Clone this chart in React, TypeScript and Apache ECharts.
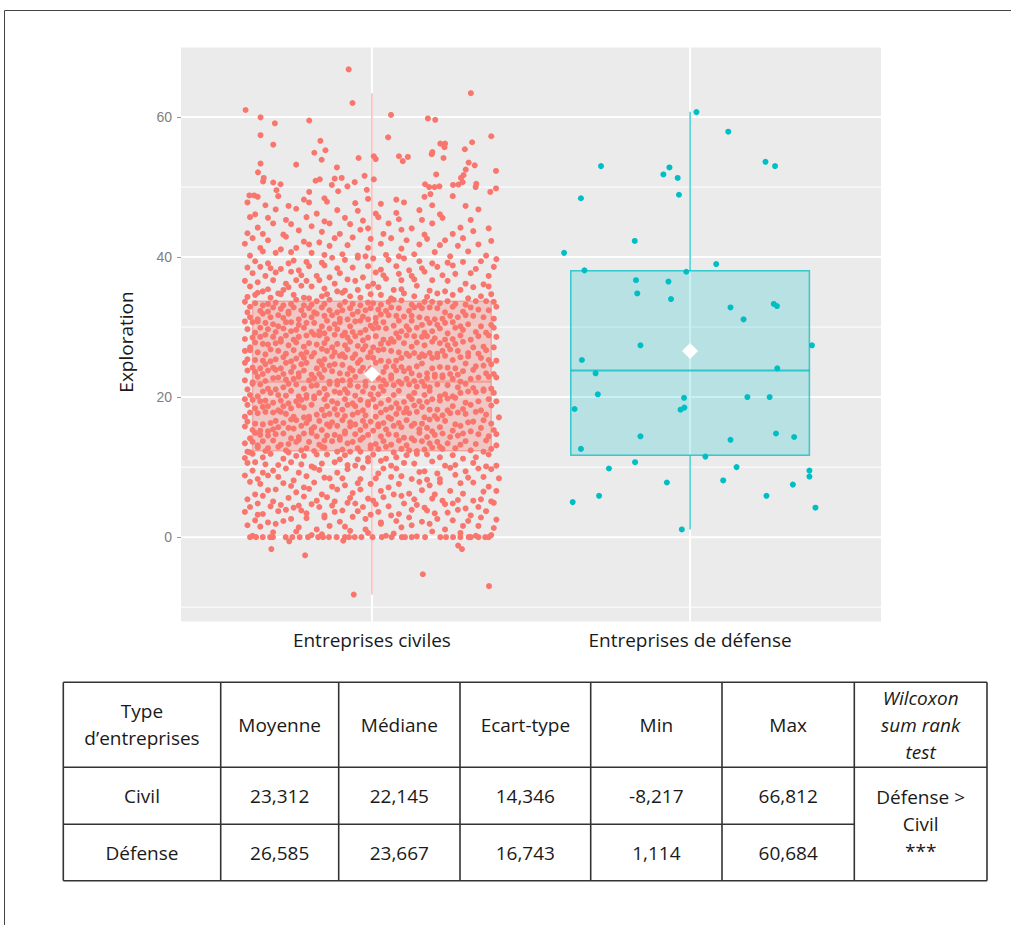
import React, { useEffect, useRef } from "react";
import * as echarts from "echarts";

// ---------- data ----------
const CATEGORIES = ["Entreprises civiles", "Entreprises de défense"];
const Y_MAJOR = [0, 20, 40, 60];
const Y_MINOR = [-10, 10, 30, 50, 70];
const X_POS = [1, 2];

// [x, lower whisker, Q1, median, Q3, upper whisker]
const BOX_CIVIL = [1, -8.2, 12.35, 22.2, 33.7, 63.4];
const BOX_DEFENSE = [2, 1.1, 11.7, 23.8, 38.05, 60.75];
const MEANS = [23.312, 26.585];

// Civil jittered points, read band by band (index = integer part of y).
// each code "XXd": XX = horizontal jitter position (00 left .. 99 right), d = tenths of y
const CIVIL_BANDS = [
  "032 117 208 263 304 419 486 552 585 671 738 846 902 963",
  "017 065 129 214 281 336 395 471 539 614 657 729 781 856 916 973",
  "044 091 153 186 247 318 372 429 476 531 593 648 692 756 814 873 928 985",
  "006 052 073 137 169 228 244 311 356 388 447 492 526 571 603 659 718 744 795 839 881 947",
  "023 058 104 146 192 215 267 293 345 409 438 463 517 564 628 676 702 787 818 861 913 979",
  "014 079 111 176 238 282 327 351 416 485 502 547 619 664 735 772 833 892 924 961",
  "041 097 128 204 259 301 368 423 458 536 581 642 697 741 806 852 935 986",
  "029 066 157 183 231 278 342 394 447 496 561 606 689 724 768 847 898 952",
  "008 053 098 136 191 247 315 334 384 453 514 576 617 653 712 763 829 875 936 994",
  "035 072 115 168 212 279 296 362 407 469 521 548 598 683 704 751 809 864 918 967",
  "016 047 084 133 187 224 261 305 357 403 432 488 539 572 626 665 738 782 823 896 941 982",
  "003 039 074 109 152 206 236 288 328 371 397 441 483 508 552 594 637 679 718 764 817 852 904 958",
  "012 021 058 083 097 139 164 171 224 247 273 309 318 362 385 412 447 452 497 526 559 581 616 644 673 705 738 769 776 827 884 932 966",
  "004 036 051 077 118 142 173 206 219 256 292 318 347 379 404 426 459 491 513 547 572 608 631 668 697 724 756 794 842 867 903 948 981",
  "021 049 066 095 127 158 181 213 238 269 284 325 356 373 398 437 462 486 534 567 596 622 651 689 713 746 778 803 835 858 917 954 987",
  "008 033 062 091 114 137 176 195 229 264 277 303 338 369 391 418 453 479 502 528 554 589 617 659 684 716 731 767 812 849 881 926 973",
  "015 042 071 103 126 153 188 207 243 258 296 321 344 387 414 431 466 495 521 543 579 603 637 662 692 728 759 786 821 874 895 937 962",
  "002 028 057 089 118 149 166 192 231 252 285 314 336 365 393 425 448 474 512 538 561 596 628 647 679 701 743 774 807 838 866 909 945 991",
  "019 044 076 097 131 157 184 218 235 269 302 327 353 382 409 437 461 489 516 552 575 604 634 668 696 722 752 791 817 853 889 921 968",
  "007 036 064 085 112 145 171 204 226 249 278 317 344 361 397 421 456 483 507 531 566 591 623 657 684 713 737 765 798 829 862 914 957 984",
  "023 051 078 106 133 162 189 211 243 271 296 323 358 376 406 432 468 494 524 549 583 609 641 666 703 729 761 784 811 846 878 907 939 976",
  "011 039 068 092 121 154 179 208 232 266 287 312 339 368 391 417 445 476 503 535 558 587 619 648 675 706 724 758 797 834 869 893 931 962",
  "004 031 059 083 117 138 165 196 219 254 277 308 332 363 384 414 439 472 498 527 544 577 602 636 663 692 717 749 778 816 842 886 918 959 988",
  "018 046 073 098 129 153 186 214 238 262 293 319 347 374 403 428 457 486 512 546 571 598 627 654 681 714 742 771 803 832 857 899 944 973",
  "009 032 061 087 112 141 169 193 227 249 281 306 335 357 386 411 449 462 491 519 553 584 613 641 674 698 731 763 792 821 868 904 935 967",
  "014 043 072 101 124 157 181 205 236 268 291 314 348 379 397 426 453 487 506 532 561 592 616 649 687 709 736 757 789 813 847 878 926 953 982",
  "006 027 054 081 108 136 162 197 221 244 273 309 326 354 381 408 431 468 494 527 548 576 604 632 663 691 723 752 776 808 836 873 912 947",
  "021 048 076 095 127 149 174 208 232 257 285 317 341 366 394 419 443 473 501 536 567 589 627 652 678 704 739 767 794 826 859 891 932 971",
  "003 035 066 089 116 143 168 192 216 248 279 298 323 359 388 405 437 461 485 517 542 573 605 638 667 696 717 744 782 813 848 882 917 958 986",
  "017 042 069 097 123 158 184 206 239 263 294 311 338 367 392 423 452 476 508 529 558 591 614 646 679 702 734 768 791 829 856 903 942 979",
  "008 037 058 086 114 131 167 187 213 246 276 301 329 354 377 411 438 459 492 516 547 582 609 631 659 693 726 753 786 817 841 874 921 963",
  "024 051 079 104 137 153 179 211 237 264 289 316 347 372 401 428 465 481 513 538 567 596 625 656 684 712 741 772 806 834 867 896 934 972",
  "011 029 063 092 118 146 172 198 224 257 271 308 334 361 384 417 442 474 497 525 553 578 607 643 668 697 728 757 781 819 852 888 915 954 989",
  "006 044 071 093 125 151 183 209 231 262 287 313 339 371 396 423 451 485 504 532 566 589 618 652 681 706 736 764 797 823 862 907 947 976",
  "013 046 059 102 138 147 196 232 251 304 327 389 414 452 497 536 571 628 664 713 758 816 871 924 967",
  "028 071 094 153 177 229 268 315 361 392 443 488 527 583 614 679 722 781 843 897 958",
  "006 054 117 162 207 246 297 352 408 436 502 559 617 668 737 796 862 931",
  "037 083 128 189 224 283 331 377 461 518 544 606 653 709 774 826 887 953",
  "015 066 104 143 211 257 318 364 425 487 532 597 641 694 756 818 903 976",
  "044 091 171 195 243 302 349 396 449 508 566 628 684 731 792 853 924 987",
  "022 078 126 187 266 313 384 442 471 553 601 664 747 801 878 942",
  "009 063 141 203 258 336 407 483 539 612 688 767 836 918",
  "037 094 169 232 291 357 428 496 577 634 716 784 857 963",
  "014 073 152 218 306 373 459 543 619 702 813 897",
  "052 118 187 264 338 417 481 568 651 738 842 951",
  "027 096 163 247 311 396 462 527 604 693 776 883",
  "041 128 209 282 367 446 512 593 687 761 918",
  "018 084 173 258 329 437 536 628 734 863",
  "056 137 232 314 483 592 706 817",
];

// civil points lying exactly on 0 (jitter offsets)
const CIVIL_ZERO = [
  -0.383, -0.364, -0.343, -0.32, -0.311, -0.271, -0.25, -0.227, -0.201, -0.169, -0.154,
  -0.135, -0.111, -0.085, -0.072, -0.054, -0.033, 0.002, 0.031, 0.062, 0.094, 0.104,
  0.125, 0.167, 0.215, 0.233, 0.255, 0.278, 0.304, 0.311, 0.335, 0.356, 0.367,
];

// civil isolated points: [jitter offset, value]
const CIVIL_EXTRA = [
  [-0.316, -1.7], [-0.21, -2.6], [-0.057, -8.2], [0.16, -5.3], [0.368, -7.0],
  [0.271, -1.2], [0.283, -1.7], [-0.26, -0.6], [-0.09, -0.5],
  [-0.073, 66.8], [-0.061, 62.0], [0.311, 63.4], [-0.397, 61.0], [-0.35, 59.95], [-0.305, 59.1],
  [-0.197, 59.5], [0.06, 60.3], [0.176, 59.8], [0.199, 59.6], [-0.35, 57.4], [-0.31, 56.05],
  [0.051, 57.1], [0.375, 57.25], [-0.162, 56.6], [-0.181, 54.9], [-0.146, 55.25], [-0.158, 53.9],
  [0.215, 56.2], [0.23, 56.2], [0.228, 55.7], [0.315, 56.4], [0.292, 55.4], [0.188, 54.7],
  [0.19, 55.0], [0.225, 54.15], [-0.042, 54.15], [0.006, 54.4], [0.012, 54.0], [0.085, 54.4],
  [0.097, 53.7], [0.113, 54.3], [-0.35, 53.35], [-0.238, 53.2], [-0.358, 52.1], [-0.11, 52.8],
  [0.304, 53.5], [0.323, 53.1], [0.39, 52.3], [0.295, 52.5], [0.288, 51.7], [0.202, 51.8],
  [-0.34, 51.3], [-0.342, 50.8], [-0.31, 50.65], [-0.287, 50.4], [-0.3, 49.55], [-0.177, 50.9],
  [-0.164, 51.1], [-0.117, 51.2], [-0.095, 51.3], [-0.126, 50.3], [-0.106, 49.4], [-0.077, 50.1],
  [-0.054, 50.7], [-0.023, 51.6], [0.006, 51.1], [-0.016, 49.6], [-0.197, 49.3], [0.167, 50.4],
  [0.18, 50.0], [0.197, 50.0], [0.212, 50.1], [0.184, 49.0], [0.255, 50.3], [0.272, 50.35],
  [0.28, 51.3], [0.285, 50.7], [0.328, 50.45], [0.326, 50.0], [0.372, 49.3], [0.39, 49.8],
  [-0.385, 48.8], [-0.37, 48.8],
];

// defense points: [jitter offset, value]
const DEFENSE_POINTS = [
  [0.02, 60.7], [0.12, 57.9], [-0.28, 53.0], [-0.065, 52.8], [-0.084, 51.8], [-0.039, 51.3],
  [0.237, 53.6], [0.267, 53.0], [-0.343, 48.4], [-0.035, 48.9], [-0.174, 42.3], [-0.396, 40.6],
  [0.082, 39.0], [-0.332, 38.1], [-0.012, 37.9], [-0.17, 36.7], [-0.068, 36.5], [-0.166, 34.8],
  [-0.06, 34.0], [0.127, 32.8], [0.263, 33.3], [0.273, 33.0], [0.168, 31.1], [-0.156, 27.4],
  [0.383, 27.4], [-0.34, 25.3], [-0.297, 23.4], [0.274, 24.1], [-0.29, 20.4], [-0.363, 18.3],
  [-0.019, 19.9], [-0.03, 18.2], [-0.018, 18.5], [0.18, 20.0], [0.25, 20.0], [-0.156, 14.4],
  [0.127, 13.9], [0.27, 14.8], [0.327, 14.3], [-0.343, 12.6], [0.048, 11.5], [-0.255, 9.8],
  [-0.173, 10.7], [0.146, 10.0], [0.375, 9.5], [0.375, 8.65], [-0.073, 7.8], [0.104, 8.1],
  [0.323, 7.5], [-0.369, 5.0], [-0.286, 5.9], [0.24, 5.9], [0.394, 4.2], [-0.026, 1.1],
];

const TABLE_HEADER = ["Type\nd’entreprises", "Moyenne", "Médiane", "Ecart-type", "Min", "Max", "Wilcoxon\nsum rank\ntest"];
const TABLE_ROWS = [
  ["Civil", "23,312", "22,145", "14,346", "-8,217", "66,812"],
  ["Défense", "26,585", "23,667", "16,743", "1,114", "60,684"],
];
const TEST_RESULT = "Défense >\nCivil\n***";

// ---------- helpers ----------
function decodeBands(bands: string[], center: number) {
  const out: number[][] = [];
  bands.forEach((s, band) => {
    s.trim().split(/\s+/).forEach((code) => {
      if (code.length !== 3) return;
      const xx = parseInt(code.slice(0, 2), 10);
      const d = parseInt(code[2], 10);
      out.push([center + (xx - 49.5) / 124, band + d / 10]);
    });
  });
  return out;
}

const CIVIL_COLOR = "#F8766D";
const DEF_COLOR = "#00BFC4";
const BOX_FILL = ["rgba(248,118,109,0.3)", "rgba(0,191,196,0.22)"];
const BOX_LINE = ["rgba(248,118,109,0.5)", "rgba(0,191,196,0.75)"];

const FONT = '"Open Sans", "Noto Sans", sans-serif';
const FONT_SIZE = 19;

function buildTable() {
  const colX = [63.3, 220.7, 338.7, 460, 590.7, 722, 854.3, 987];
  const rowY = [682.3, 767.3, 824.3, 880.7];
  const stroke = "#333";
  const lw = 1.6;
  const els: any[] = [];
  els.push({ type: "line", shape: { x1: colX[0], y1: rowY[0], x2: colX[7], y2: rowY[0] }, style: { stroke, lineWidth: lw } });
  els.push({ type: "line", shape: { x1: colX[0], y1: rowY[1], x2: colX[7], y2: rowY[1] }, style: { stroke, lineWidth: lw } });
  els.push({ type: "line", shape: { x1: colX[0], y1: rowY[2], x2: colX[6], y2: rowY[2] }, style: { stroke, lineWidth: lw } });
  els.push({ type: "line", shape: { x1: colX[0], y1: rowY[3], x2: colX[7], y2: rowY[3] }, style: { stroke, lineWidth: lw } });
  colX.forEach((x) => {
    els.push({ type: "line", shape: { x1: x, y1: rowY[0], x2: x, y2: rowY[3] }, style: { stroke, lineWidth: lw } });
  });
  const textStyle = (text: string, x: number, y: number, italic = false) => ({
    type: "text",
    x,
    y,
    style: {
      text,
      align: "center",
      verticalAlign: "middle",
      fontFamily: FONT,
      fontSize: FONT_SIZE,
      fontStyle: italic ? "italic" : "normal",
      lineHeight: 27,
      fill: "#1a1a1a",
    },
  });
  TABLE_HEADER.forEach((t, i) => {
    const cx = (colX[i] + colX[i + 1]) / 2;
    els.push(textStyle(t, cx, (rowY[0] + rowY[1]) / 2, i === 6));
  });
  TABLE_ROWS.forEach((row, r) => {
    row.forEach((t, i) => {
      const cx = (colX[i] + colX[i + 1]) / 2;
      els.push(textStyle(t, cx, (rowY[r + 1] + rowY[r + 2]) / 2));
    });
  });
  els.push(textStyle(TEST_RESULT, (colX[6] + colX[7]) / 2, (rowY[1] + rowY[3]) / 2));
  return els;
}

export default function App() {
  const ref = useRef<HTMLDivElement>(null);
  useEffect(() => {
    if (!ref.current) return;
    const chart = echarts.init(ref.current, null, { renderer: "svg" });

    const civilPoints = [
      ...decodeBands(CIVIL_BANDS, X_POS[0]),
      ...CIVIL_ZERO.map((o) => [X_POS[0] + o, 0]),
      ...CIVIL_EXTRA.map(([o, v]) => [X_POS[0] + o, v]),
    ];
    const defensePoints = DEFENSE_POINTS.map(([o, v]) => [X_POS[1] + o, v]);

    const option: any = {
      animation: false,
      grid: {
        left: 181,
        right: 130,
        top: 47,
        bottom: 303.5,
        show: true,
        backgroundColor: "#EBEBEB",
        borderWidth: 0,
      },
      xAxis: {
        type: "value",
        min: 0.4,
        max: 2.6,
        axisLine: { show: false },
        splitLine: { show: false },
        axisTick: { show: true, customValues: X_POS, length: 4, lineStyle: { color: "#999", width: 1 } },
        axisLabel: {
          customValues: X_POS,
          formatter: (v: number) => CATEGORIES[Math.round(v) - 1] || "",
          margin: 9,
          color: "#1a1a1a",
          fontFamily: FONT,
          fontSize: FONT_SIZE,
        },
      },
      yAxis: {
        type: "value",
        min: -12.05,
        max: 70,
        axisLine: { show: false },
        splitLine: { show: false },
        axisTick: { show: true, customValues: Y_MAJOR, length: 4, lineStyle: { color: "#999", width: 1 } },
        axisLabel: {
          customValues: Y_MAJOR,
          margin: 9,
          color: "#7f7f7f",
          fontFamily: '"Liberation Sans", Arial, sans-serif',
          fontSize: 14,
        },
      },
      graphic: [
        { type: "line", shape: { x1: 4.5, y1: 10.5, x2: 1011, y2: 10.5 }, style: { stroke: "#444", lineWidth: 1 } },
        { type: "line", shape: { x1: 4.5, y1: 10.5, x2: 4.5, y2: 925 }, style: { stroke: "#444", lineWidth: 1 } },
        {
          type: "text",
          x: 126,
          y: 342,
          rotation: Math.PI / 2,
          style: {
            text: "Exploration",
            align: "center",
            verticalAlign: "middle",
            fontFamily: FONT,
            fontSize: FONT_SIZE,
            fill: "#1a1a1a",
          },
        },
        ...buildTable(),
      ],
      series: [
        {
          type: "custom",
          z: 1,
          silent: true,
          data: [...Y_MINOR.map((v) => [1.5, v, 1]), ...Y_MAJOR.map((v) => [1.5, v, 2])],
          encode: { x: 0, y: 1 },
          renderItem: (params: any, api: any) => {
            const cs = params.coordSys;
            const y = api.coord([1.5, api.value(1)])[1];
            return {
              type: "line",
              shape: { x1: cs.x, y1: y, x2: cs.x + cs.width, y2: y },
              style: { stroke: "#fff", lineWidth: api.value(2) },
            };
          },
        },
        {
          type: "custom",
          z: 1,
          silent: true,
          data: X_POS.map((x) => [x, 30]),
          encode: { x: 0, y: 1 },
          renderItem: (params: any, api: any) => {
            const cs = params.coordSys;
            const x = api.coord([api.value(0), 30])[0];
            return {
              type: "line",
              shape: { x1: x, y1: cs.y, x2: x, y2: cs.y + cs.height },
              style: { stroke: "#fff", lineWidth: 2 },
            };
          },
        },
        {
          type: "custom",
          z: 2,
          silent: true,
          data: [BOX_CIVIL, BOX_DEFENSE],
          encode: { x: 0, y: [1, 2, 3, 4, 5] },
          renderItem: (params: any, api: any) => {
            const i = params.dataIndex;
            const x = api.value(0);
            const lo = api.value(1);
            const q1 = api.value(2);
            const med = api.value(3);
            const q3 = api.value(4);
            const hi = api.value(5);
            const hw = 0.375;
            const tl = api.coord([x - hw, q3]);
            const br = api.coord([x + hw, q1]);
            const mL = api.coord([x - hw, med]);
            const mR = api.coord([x + hw, med]);
            const pHi = api.coord([x, hi]);
            const pQ3 = api.coord([x, q3]);
            const pQ1 = api.coord([x, q1]);
            const pLo = api.coord([x, lo]);
            const stroke = BOX_LINE[i];
            return {
              type: "group",
              children: [
                {
                  type: "rect",
                  shape: { x: tl[0], y: tl[1], width: br[0] - tl[0], height: br[1] - tl[1] },
                  style: { fill: BOX_FILL[i], stroke, lineWidth: 1.5 },
                },
                { type: "line", shape: { x1: mL[0], y1: mL[1], x2: mR[0], y2: mR[1] }, style: { stroke, lineWidth: 2.2 } },
                { type: "line", shape: { x1: pHi[0], y1: pHi[1], x2: pQ3[0], y2: pQ3[1] }, style: { stroke, lineWidth: 1.5 } },
                { type: "line", shape: { x1: pQ1[0], y1: pQ1[1], x2: pLo[0], y2: pLo[1] }, style: { stroke, lineWidth: 1.5 } },
              ],
            };
          },
        },
        {
          type: "scatter",
          z: 3,
          silent: true,
          progressive: 0,
          symbolSize: 6,
          itemStyle: { color: CIVIL_COLOR, opacity: 1 },
          data: civilPoints,
        },
        {
          type: "scatter",
          z: 3,
          silent: true,
          progressive: 0,
          symbolSize: 6,
          itemStyle: { color: DEF_COLOR, opacity: 1 },
          data: defensePoints,
        },
        {
          type: "scatter",
          z: 4,
          silent: true,
          symbol: "diamond",
          symbolSize: [16, 16],
          itemStyle: { color: "#ffffff", opacity: 1 },
          data: X_POS.map((x, i) => [x, MEANS[i]]),
        },
      ],
    };
    chart.setOption(option);
    return () => chart.dispose();
  }, []);
  return (
    <div
      ref={ref}
      style={{ position: "absolute", left: 0, top: 0, width: 1011, height: 925, background: "#fff" }}
    />
  );
}
